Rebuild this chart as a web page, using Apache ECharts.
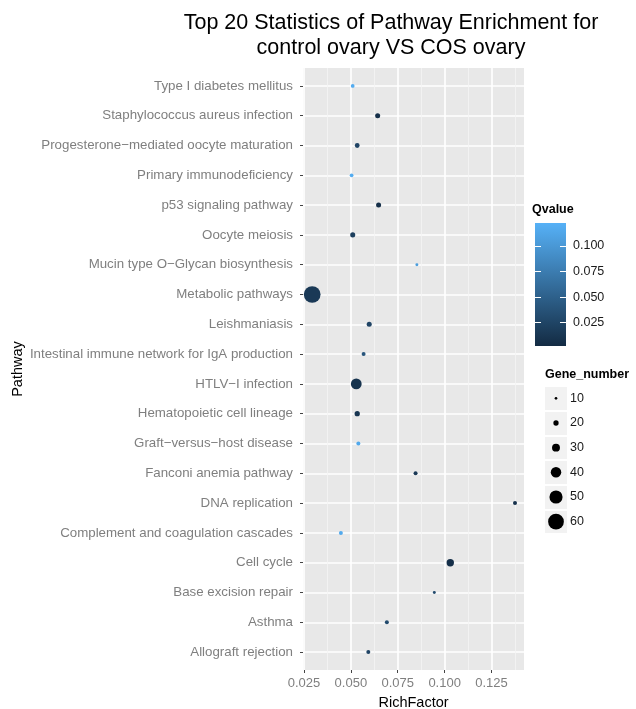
<!DOCTYPE html>
<html>
<head>
<meta charset="utf-8">
<script src="https://cdn.jsdelivr.net/npm/echarts@6/dist/echarts.min.js"></script>
<style>
  html, body { margin: 0; padding: 0; background: #fff; }
  #chart { width: 636px; height: 709px; }
</style>
</head>
<body>
<div id="chart"></div>
<script>
// pathways, top to bottom
const pathways = [
  'Type I diabetes mellitus',
  'Staphylococcus aureus infection',
  'Progesterone\u2212mediated oocyte maturation',
  'Primary immunodeficiency',
  'p53 signaling pathway',
  'Oocyte meiosis',
  'Mucin type O\u2212Glycan biosynthesis',
  'Metabolic pathways',
  'Leishmaniasis',
  'Intestinal immune network for IgA production',
  'HTLV\u2212I infection',
  'Hematopoietic cell lineage',
  'Graft\u2212versus\u2212host disease',
  'Fanconi anemia pathway',
  'DNA replication',
  'Complement and coagulation cascades',
  'Cell cycle',
  'Base excision repair',
  'Asthma',
  'Allograft rejection'
]
const richFactor = [0.0510, 0.0643, 0.0534, 0.0504, 0.0648, 0.0510, 0.0852, 0.0294, 0.0598, 0.0568,
  0.0529, 0.0534, 0.0540, 0.0845, 0.1375, 0.0447, 0.1030, 0.0945, 0.0692, 0.0593]
const qvalue = [0.118, 0.006, 0.025, 0.118, 0.006, 0.020, 0.105, 0.015, 0.025, 0.040,
  0.010, 0.012, 0.115, 0.015, 0.008, 0.115, 0.006, 0.030, 0.030, 0.025]
const geneNumber = [14, 19, 18, 14, 19, 19, 11, 64, 19, 15,
  41, 20, 15, 15, 15, 15, 28, 11, 15, 15]

const xTicks = [0.025, 0.050, 0.075, 0.100, 0.125]
const xMinor = [0.0375, 0.0625, 0.0875, 0.1125, 0.1375]
const qTicks = [0.025, 0.050, 0.075, 0.100]
const sizeBreaks = [10, 20, 30, 40, 50, 60]

const qMin = 0.0022
const qMax = 0.1225

// diameter in px for a gene count
const dotSize = n => 0.26 * n + 0.1

const txtFont = 'Liberation Sans'
const chart = echarts.init(document.getElementById('chart'))

const option = {
  animation: false,
  backgroundColor: '#fff',
  graphic: [
    {
      type: 'text', x: 391, y: 11,
      style: {
        text: 'Top 20 Statistics of Pathway Enrichment for\ncontrol ovary VS COS ovary',
        font: '21.5px "Liberation Sans"', fill: '#000',
        textAlign: 'center', textVerticalAlign: 'top', lineHeight: 25
      }
    },
    {
      type: 'text', x: 532, y: 210,
      style: { text: 'Qvalue', font: 'bold 12.5px "Liberation Sans"', fill: '#000', textVerticalAlign: 'middle' }
    },
    {
      type: 'text', x: 545, y: 375,
      style: { text: 'Gene_number', font: 'bold 12.5px "Liberation Sans"', fill: '#000', textVerticalAlign: 'middle' }
    }
  ],
  grid: [
    { left: 303, top: 68, width: 221, height: 602, show: true, backgroundColor: '#E8E8E8', borderWidth: 0, outerBoundsMode: 'none' },
    {
      left: 535, top: 223, width: 31, height: 123, show: true, borderWidth: 0, outerBoundsMode: 'none',
      backgroundColor: {
        type: 'linear', x: 0, y: 0, x2: 0, y2: 1,
        colorStops: [{ offset: 0, color: '#56B1F7' }, { offset: 1, color: '#132B43' }]
      }
    },
    { left: 545, top: 386, width: 22, height: 148, show: false, outerBoundsMode: 'none' }
  ],
  xAxis: [
    {
      gridIndex: 0, type: 'value', min: 0.0245, max: 0.1423, position: 'bottom',
      name: 'RichFactor', nameLocation: 'middle', nameGap: 25,
      nameTextStyle: { color: '#000', fontSize: 14.5, fontFamily: txtFont },
      axisLine: { show: false, onZero: false },
      axisTick: { show: true, length: 3, lineStyle: { color: '#444' }, customValues: xTicks },
      axisLabel: { color: '#7f7f7f', fontSize: 13, fontFamily: txtFont, margin: 7, customValues: xTicks,
        formatter: v => v.toFixed(3) },
      splitLine: { show: true, lineStyle: { color: '#fff', width: 1.6 } }
    },
    {
      gridIndex: 0, type: 'value', min: 0.0245, max: 0.1423, position: 'bottom',
      axisLine: { show: false, onZero: false },
      axisTick: { show: false, customValues: xMinor },
      axisLabel: { show: false, customValues: xMinor },
      splitLine: { show: true, lineStyle: { color: '#F4F4F4', width: 0.8 } }
    },
    { gridIndex: 1, type: 'value', show: false, min: 0, max: 1 },
    { gridIndex: 2, type: 'category', data: ['k'], show: false }
  ],
  yAxis: [
    {
      gridIndex: 0, type: 'value', inverse: true, min: -0.6, max: pathways.length - 0.4,
      name: 'Pathway', nameLocation: 'middle', nameGap: 278,
      nameTextStyle: { color: '#000', fontSize: 14.5, fontFamily: txtFont },
      axisLine: { show: false, onZero: false },
      axisTick: { show: true, length: 3, lineStyle: { color: '#444' }, customValues: pathways.map((p, i) => i) },
      axisLabel: { color: '#7f7f7f', fontSize: 13.3, fontFamily: txtFont, margin: 10,
        customValues: pathways.map((p, i) => i), formatter: v => pathways[Math.round(v)] },
      splitLine: { show: true, lineStyle: { color: '#fff', width: 1.6 } }
    },
    {
      gridIndex: 1, type: 'value', min: qMin, max: qMax, position: 'left',
      axisLine: { show: false, onZero: false },
      axisTick: { show: true, inside: true, length: 6, lineStyle: { color: '#fff', width: 1 }, customValues: qTicks },
      axisLabel: { show: false },
      splitLine: { show: false }
    },
    {
      gridIndex: 1, type: 'value', min: qMin, max: qMax, position: 'right',
      axisLine: { show: false, onZero: false },
      axisTick: { show: true, inside: true, length: 6, lineStyle: { color: '#fff', width: 1 }, customValues: qTicks },
      axisLabel: { color: '#1a1a1a', fontSize: 12.5, fontFamily: txtFont, margin: 7, customValues: qTicks,
        formatter: v => v.toFixed(3) },
      splitLine: { show: false }
    },
    {
      gridIndex: 2, type: 'category', inverse: true, position: 'right',
      data: sizeBreaks.map(String),
      axisLine: { show: false, onZero: false },
      axisTick: { show: false },
      axisLabel: { color: '#1a1a1a', fontSize: 12.5, fontFamily: txtFont, margin: 3 },
      splitLine: { show: true, lineStyle: { color: '#fff', width: 2 } },
      splitArea: { show: true, areaStyle: { color: ['#F2F2F2', '#F2F2F2'] } }
    }
  ],
  visualMap: {
    show: false,
    type: 'continuous',
    seriesIndex: 0,
    dimension: 2,
    min: qMin,
    max: qMax,
    inRange: { color: ['#132B43', '#56B1F7'] }
  },
  series: [
    {
      type: 'scatter',
      xAxisIndex: 0,
      yAxisIndex: 0,
      data: pathways.map((p, i) => [richFactor[i], i, qvalue[i], geneNumber[i]]),
      symbolSize: v => dotSize(v[3]),
      itemStyle: { opacity: 1 }
    },
    {
      type: 'scatter',
      xAxisIndex: 3,
      yAxisIndex: 3,
      data: sizeBreaks.map((s, i) => ['k', i, s]),
      symbolSize: v => dotSize(v[2]),
      itemStyle: { color: '#000', opacity: 1 }
    }
  ]
}

chart.setOption(option)
</script>
</body>
</html>
